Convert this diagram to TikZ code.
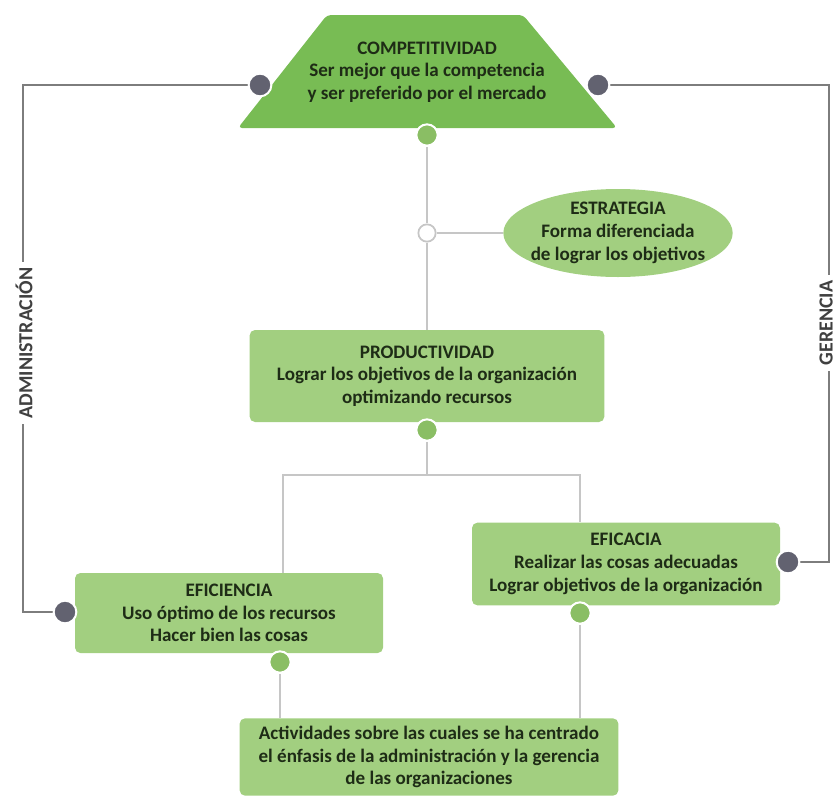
\documentclass[tikz,border=0pt]{standalone}
\usepackage{fontspec}
\setmainfont{Carlito}
\usetikzlibrary{backgrounds,shapes.geometric}

\definecolor{topgreen}{RGB}{120,188,84}
\definecolor{boxgreen}{RGB}{162,207,128}
\definecolor{dotgreen}{RGB}{138,190,100}
\definecolor{dotgray}{RGB}{98,98,112}
\definecolor{txtgreen}{RGB}{30,44,22}
\definecolor{linedark}{RGB}{125,125,125}
\definecolor{linelight}{RGB}{198,198,198}

\begin{document}
\begin{tikzpicture}[x=0.75pt,y=-0.75pt]

 \tikzset{
    box/.style={fill=boxgreen, rounded corners=4pt, text=txtgreen, align=center,
      font=\fontsize{14.3}{17}\selectfont\bfseries, inner sep=0pt},
    greydot/.style={circle, fill=dotgray, draw=white, line width=1.5pt, minimum size=17pt, inner sep=0pt},
    greendot/.style={circle, fill=dotgreen, draw=white, line width=1.5pt, minimum size=16pt, inner sep=0pt},
    opendot/.style={circle, fill=white, draw=linelight, line width=1.3pt, minimum size=13pt, inner sep=0pt},
    outer/.style={draw=linedark, line width=1pt},
    inner/.style={draw=linelight, line width=1.2pt},
    sidelabel/.style={rotate=90, fill=white, text=black!75, inner xsep=4pt, inner ysep=1pt,
      font=\fontsize{15}{15}\selectfont\bfseries},
  }

  \useasboundingbox (0,0) rectangle (837,796);

  \fill[topgreen, rounded corners=3pt] (238,128) -- (327,15) -- (523,15) -- (617,128) -- cycle;
  \node[box, fill=none] (comp) at (427,72)
    {COMPETITIVIDAD\\Ser mejor que la competencia\\y ser preferido por el mercado};

  \node[box, ellipse, inner xsep=-9pt, inner ysep=-4pt, minimum width=172pt, minimum height=66pt] (estr) at (618,233)
    {ESTRATEGIA\\Forma diferenciada\\de lograr los objetivos};

  \node[box, minimum width=266pt, minimum height=69pt] (prod) at (427,376)
    {PRODUCTIVIDAD\\Lograr los objetivos de la organización\\optimizando recursos};

  \node[box, minimum width=231pt, minimum height=60pt] (efi) at (229,613)
    {EFICIENCIA\\Uso óptimo de los recursos\\Hacer bien las cosas};

  \node[box, minimum width=231pt, minimum height=62pt] (efa) at (626,564)
    {EFICACIA\\Realizar las cosas adecuadas\\Lograr objetivos de la organización};

  \node[box, minimum width=284pt, minimum height=58pt] (act) at (429,757)
    {Actividades sobre las cuales se ha centrado\\el énfasis de la administración y la gerencia\\de las organizaciones};

  \node[greydot] (dl1) at (260,85) {};
  \node[greydot] (dr1) at (598,85) {};
  \node[greydot] (dl2) at (65,612) {};
  \node[greydot] (dr2) at (788,562) {};

  \node[greendot] (gc) at (427,135) {};
  \node[greendot] (gp) at (427,430) {};
  \node[greendot] (ge) at (280,662) {};
  \node[greendot] (ga) at (580,613) {};
  \node[opendot] (oc) at (427,233) {};

  \coordinate (cl1) at (23,85);
  \coordinate (cl2) at (23,612);
  \coordinate (cr1) at (829,85);
  \coordinate (cr2) at (829,562);
  \coordinate (jm) at (427,475);
  \coordinate (jl) at (283,475);
  \coordinate (jr) at (580,475);

  \begin{scope}[on background layer]
    \draw[outer] (dl1) -- (cl1) -- (cl2) -- (dl2);
    \draw[outer] (dr1) -- (cr1) -- (cr2) -- (dr2);
    \draw[inner] (gc) -- (oc);
    \draw[inner] (oc) -- (prod);
    \draw[inner] (oc) -- (estr);
    \draw[inner] (gp) -- (jm);
    \draw[inner] (efi.north -| jl) -- (jl) -- (jr) -- (efa.north -| jr);
    \draw[inner] (ge) -- (act.north -| ge);
    \draw[inner] (ga) -- (act.north -| ga);
  \end{scope}

  \node[sidelabel] (adm) at (24,343) {ADMINISTRACIÓN};
  \node[sidelabel] (ger) at (826,323) {GERENCIA};
\end{tikzpicture}
\end{document}
